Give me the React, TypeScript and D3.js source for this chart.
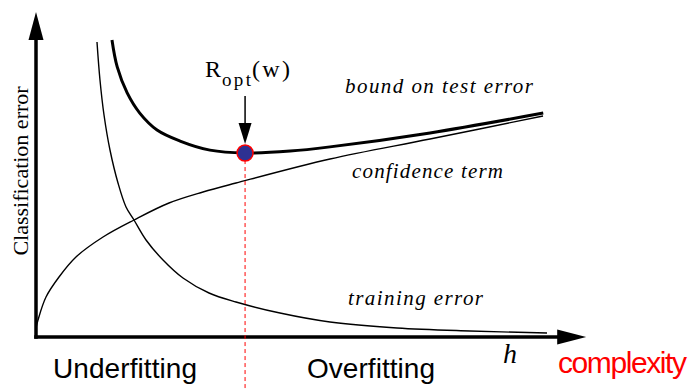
import React from "react";
import * as d3 from "d3";

// complexity (h) and classification error, in chart units (0..100)
const trainingH = [11.64, 12.21, 12.98, 14.12, 15.65, 17.18, 18.7, 21.0, 24.24, 28.05, 33.02, 38.17, 46.56, 56.11, 68.89, 82.82, 97.52];
const trainingErr = [90.77, 79.08, 68.31, 57.54, 47.38, 40.0, 36.0, 29.85, 23.69, 18.15, 13.54, 10.77, 7.38, 4.62, 2.77, 1.85, 1.23];

const confidenceH = [0, 0.38, 1.91, 4.39, 7.63, 12.79, 18.7, 25.38, 31.87, 38.17, 56.11, 75.19, 96.76];
const confidenceVal = [2.8, 5.23, 12.31, 18.46, 24.62, 30.77, 36.0, 41.23, 44.62, 47.38, 54.77, 60.92, 68.0];

const boundH = [14.5, 15.5, 17.4, 19.8, 23.1, 27.5, 33.2, 39.9, 48.5, 56.1, 75.2, 96.8];
const boundVal = [91.4, 83.1, 75.1, 68.9, 63.7, 60.3, 57.5, 56.6, 57.2, 58.5, 62.8, 68.9];

const optimum = { h: 39.9, err: 56.6 };

const W = 693;
const H = 390;

export default function App() {
  const x = d3.scaleLinear().domain([0, 100]).range([36, 560]);
  const y = d3.scaleLinear().domain([0, 100]).range([337, 12]);

  const line = d3
    .line<[number, number]>()
    .x((d) => x(d[0]))
    .y((d) => y(d[1]))
    .curve(d3.curveCatmullRom.alpha(0.5));

  const zip = (a: number[], b: number[]) => a.map((v, i) => [v, b[i]] as [number, number]);

  const x0 = x(0);
  const y0 = y(0);
  const xTip = x(105);
  const yTip = y(100);

  const px = x(optimum.h);
  const py = y(optimum.err);

  return (
    <svg
      width={W}
      height={H}
      viewBox={`0 0 ${W} ${H}`}
      style={{ position: "absolute", left: 0, top: 0, display: "block", background: "#fff" }}
    >
      {/* curves */}
      <path d={line(zip(trainingH, trainingErr)) || ""} fill="none" stroke="#000" strokeWidth={1.4} />
      <path d={line(zip(confidenceH, confidenceVal)) || ""} fill="none" stroke="#000" strokeWidth={1.4} />
      <path d={line(zip(boundH, boundVal)) || ""} fill="none" stroke="#000" strokeWidth={3} />

      {/* axes */}
      <line x1={x0} y1={y0 + 1.8} x2={x0} y2={yTip + 26} stroke="#000" strokeWidth={3.5} />
      <polygon points={`${x0},${yTip} ${x0 - 7.5},${yTip + 28} ${x0 + 7.5},${yTip + 28}`} fill="#000" />
      <line x1={x0 - 1.8} y1={y0} x2={xTip - 26} y2={y0} stroke="#000" strokeWidth={3.5} />
      <polygon points={`${xTip},${y0} ${xTip - 29},${y0 - 7.5} ${xTip - 29},${y0 + 7.5}`} fill="#000" />

      {/* optimum marker */}
      <line x1={px} y1={py} x2={px} y2={H} stroke="#ff0000" strokeWidth={1} strokeDasharray="4,3" />
      <line x1={px} y1={96} x2={px} y2={125} stroke="#000" strokeWidth={1.5} />
      <polygon points={`${px},${py - 9} ${px - 6.5},${py - 30} ${px + 6.5},${py - 30}`} fill="#000" />
      <circle cx={px} cy={py} r={8} fill="#2e3192" stroke="#ff0000" strokeWidth={1.5} />

      {/* R_opt(w) */}
      <g fontFamily="'Liberation Serif', 'Times New Roman', serif" fill="#000">
        <text x={205} y={77} fontSize={24}>R</text>
        <text x={222} y={86} fontSize={19} textLength={29}>opt</text>
        <text x={252} y={77} fontSize={24} textLength={38}>(w)</text>
      </g>

      {/* italic curve labels */}
      <g fontFamily="'Liberation Serif', 'Times New Roman', serif" fontStyle="italic" fill="#000">
        <text x={345} y={93} fontSize={21} textLength={188}>bound on test error</text>
        <text x={352} y={178} fontSize={21} textLength={151}>confidence term</text>
        <text x={348} y={305} fontSize={21} textLength={135}>training error</text>
        <text x={503} y={363} fontSize={28}>h</text>
      </g>

      {/* y label */}
      <text
        transform={`translate(28, 171) rotate(-90)`}
        textAnchor="middle"
        fontFamily="'Liberation Serif', 'Times New Roman', serif"
        fontSize={22}
        fill="#000"
      >
        Classification error
      </text>

      {/* bottom labels */}
      <g fontFamily="'Liberation Sans', Arial, sans-serif" fontSize={28}>
        <text x={53} y={378} fill="#000" textLength={144}>Underfitting</text>
        <text x={307} y={378} fill="#000" textLength={128}>Overfitting</text>
        <text x={558} y={373} fill="#ff0000" fontSize={30} textLength={129}>complexity</text>
      </g>
    </svg>
  );
}
